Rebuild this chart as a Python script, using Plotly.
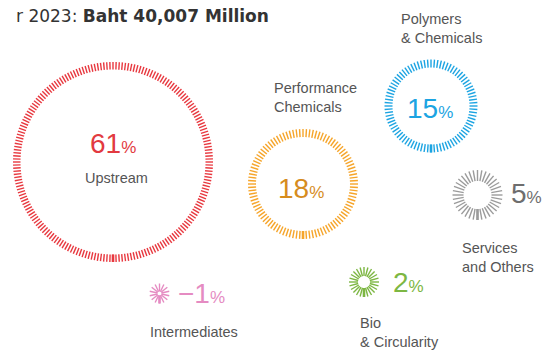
import numpy as np
import plotly.graph_objects as go

# data
segments = ['Upstream', 'Performance<br>Chemicals', 'Polymers<br>& Chemicals',
            'Services<br>and Others', 'Bio<br>& Circularity', 'Intermediates']
shares = [61, 18, 15, 5, 2, -1]
title_text = 'r 2023: <b>Baht 40,007 Million</b>'

# look of each ring: centre, outer radius, tick length, tick count, colours
rings = [
    dict(cx=113, cy=162, r=100, tl=7.5, n=200, tick='#E8383F', num='#E23A40'),
    dict(cx=303, cy=184, r=55, tl=8, n=100, tick='#F6A52A', num='#D68C1E'),
    dict(cx=431, cy=106, r=46.5, tl=8, n=84, tick='#1CA4E2', num='#1CA4E2'),
    dict(cx=477.5, cy=195, r=25, tl=11, n=36, tick='#9B9B9B', num='#6E6E6E'),
    dict(cx=364, cy=282, r=15, tl=9, n=24, tick='#7DB743', num='#7DB743'),
    dict(cx=159.5, cy=293.5, r=10, tl=8, n=14, tick='#E58BC2', num='#E58BC2'),
]
# where the number and the label sit
num_pos = [(112.5, 143, 'center'), (301, 188, 'center'), (430, 108, 'center'),
           (509, 193, 'left'), (391, 282, 'left'), (176, 293, 'left')]
lab_pos = [(116, 178, 'center'), (272, 97, 'left'), (399, 28, 'left'),
           (460, 257, 'left'), (358, 332, 'left'), (148, 332, 'left')]

# the page body adds an 8px margin, so the axes are shifted to compensate
OFF = 8

fig = go.Figure()

for ring in rings:
    ang = np.linspace(0, 2 * np.pi, ring['n'], endpoint=False) + np.pi / 2
    xs, ys = [], []
    for a in ang:
        r0, r1 = ring['r'] - ring['tl'], ring['r']
        xs += [ring['cx'] + r0 * np.cos(a), ring['cx'] + r1 * np.cos(a), None]
        ys += [ring['cy'] + r0 * np.sin(a), ring['cy'] + r1 * np.sin(a), None]
    fig.add_trace(go.Scatter(x=xs, y=ys, mode='lines', hoverinfo='skip',
                             line=dict(color=ring['tick'], width=1.4)))
    # heavier start mark at the bottom
    fig.add_trace(go.Scatter(x=[ring['cx'], ring['cx']],
                             y=[ring['cy'] + ring['r'] - ring['tl'], ring['cy'] + ring['r']],
                             mode='lines', hoverinfo='skip',
                             line=dict(color=ring['tick'], width=2.6)))

for seg, v, ring, (nx, ny, na), (lx, ly, la) in zip(segments, shares, rings, num_pos, lab_pos):
    num = str(v).replace('-', '\u2212')
    fig.add_annotation(x=nx, y=ny, xanchor=na, yanchor='middle', showarrow=False,
                       text=f"{num}<span style='font-size:17px'>%</span>",
                       font=dict(family='Liberation Sans', size=28, color=ring['num']))
    fig.add_annotation(x=lx, y=ly, xanchor=la, yanchor='middle', showarrow=False,
                       text=seg, align=la,
                       font=dict(family='Liberation Sans', size=14.5, color='#555555'))

fig.add_annotation(x=271, y=16, xanchor='right', yanchor='middle', showarrow=False,
                   text=title_text,
                   font=dict(family='DejaVu Sans', size=17, color='#333333'))

fig.update_layout(
    width=553, height=354,
    margin=dict(l=0, r=0, t=0, b=0),
    showlegend=False,
    plot_bgcolor='white', paper_bgcolor='white',
    xaxis=dict(range=[OFF, 553 + OFF], visible=False, fixedrange=True),
    yaxis=dict(range=[354 + OFF, OFF], visible=False, fixedrange=True),
)

fig.write_html("out.html")
